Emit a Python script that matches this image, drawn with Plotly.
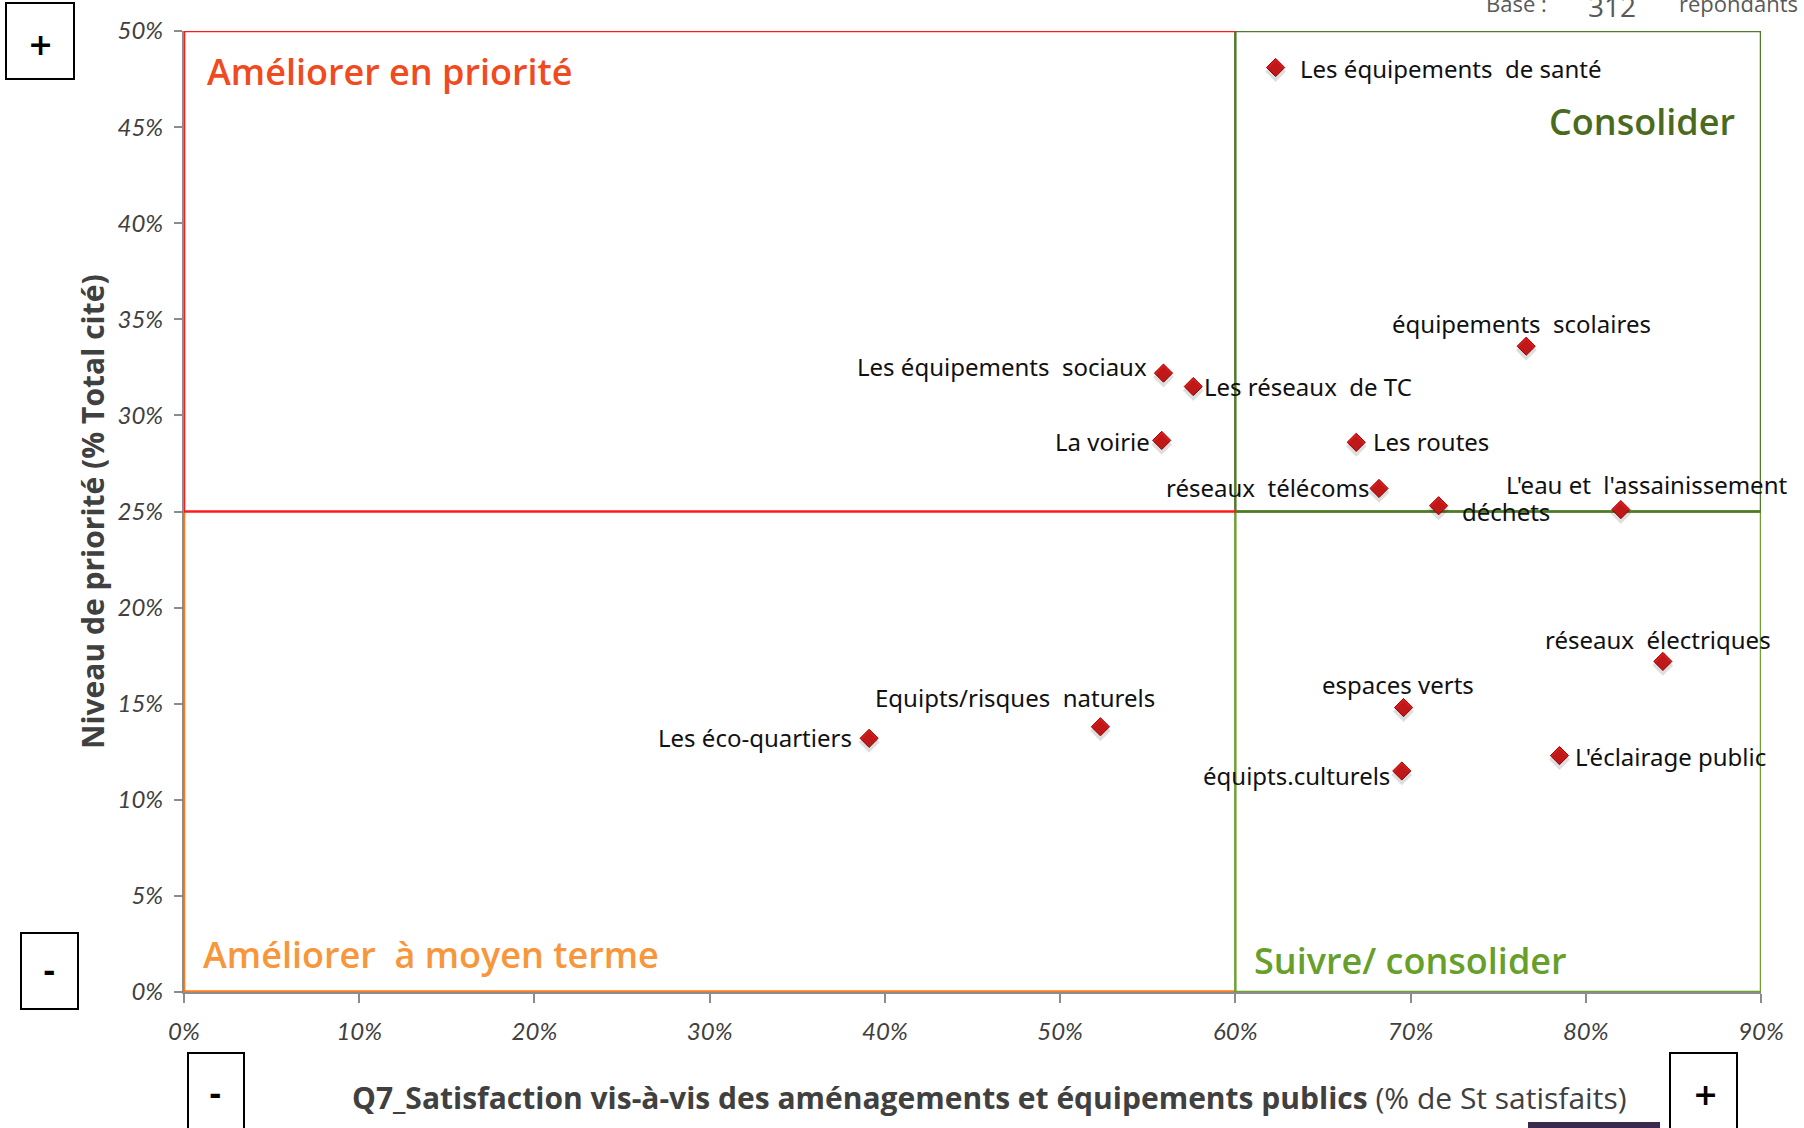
import plotly.graph_objects as go

# ---------------- data ----------------
items = [
    "Les équipements  de santé",
    "équipements  scolaires",
    "Les équipements  sociaux",
    "Les réseaux  de TC",
    "La voirie",
    "Les routes",
    "réseaux  télécoms",
    "déchets",
    "L'eau et  l'assainissement",
    "réseaux  électriques",
    "espaces verts",
    "Equipts/risques  naturels",
    "Les éco-quartiers",
    "L'éclairage public",
    "équipts.culturels",
]
satisfaction = [0.623, 0.766, 0.559, 0.576, 0.558, 0.669, 0.682, 0.716, 0.820, 0.844, 0.696, 0.523, 0.391, 0.785, 0.695]
priorite = [0.481, 0.336, 0.322, 0.315, 0.287, 0.286, 0.262, 0.253, 0.251, 0.172, 0.148, 0.138, 0.132, 0.123, 0.115]

x_ticks = [0, 0.1, 0.2, 0.3, 0.4, 0.5, 0.6, 0.7, 0.8, 0.9]
y_ticks = [0, 0.05, 0.1, 0.15, 0.2, 0.25, 0.3, 0.35, 0.4, 0.45, 0.5]
x_split = 0.60
y_split = 0.25
x_max = 0.90
y_max = 0.50

quadrant_titles = ["Améliorer en priorité", "Consolider", "Améliorer  à moyen terme", "Suivre/ consolider"]
x_title_bold = "Q7_Satisfaction vis-à-vis des aménagements et équipements publics"
x_title_rest = " (% de St satisfaits)"
y_title = "Niveau de priorité (% Total cité)"
base_label = "Base :"
base_count = "312"
base_unit = "répondants"

# ---------------- label placement (style) ----------------
# (xanchor, xshift px, yshift px)
label_place = [
    ("left", 22, -1),
    ("center", -5, 23),
    ("right", -14, 7),
    ("left", 9, 0),
    ("right", -10, -1),
    ("left", 15, 1),
    ("right", -8, 1),
    ("left", 21, -6),
    ("center", 26, 25),
    ("center", -5, 22),
    ("center", -6, 23),
    ("center", -85, 29),
    ("right", -15, 1),
    ("left", 14, -1),
    ("right", -10, -5),
]

W, H = 1804, 1128
L, R, T, B = 184, 43, 31, 136
PW, PH = W - L - R, H - T - B


def px(xp):
    return (xp - L) / PW


def py(yp):
    return (H - B - yp) / PH


fig = go.Figure()

# shadow markers (drawn on an overlay axis shifted a few pixels down)
shadow_dy = 4 * y_max / PH
fig.add_trace(go.Scatter(
    x=satisfaction, y=priorite, mode="markers",
    marker=dict(symbol="diamond", size=16, color="rgba(0,0,0,0.13)", line=dict(width=0)),
    hoverinfo="skip", showlegend=False,
    xaxis="x2", yaxis="y2",
))
fig.add_trace(go.Scatter(
    x=satisfaction, y=priorite, mode="markers",
    marker=dict(symbol="diamond", size=14, color="#dc1c1c", line=dict(width=1, color="#a80000")),
    text=items, hoverinfo="text", showlegend=False,
))

RED = "#ff1a1a"
ORANGE = "#ff7b1a"
DKGREEN = "#4f7a28"
LTGREEN = "#6ea132"

shapes = [
    dict(type="line", x0=0, x1=x_split, y0=0, y1=0, line=dict(color=ORANGE, width=3.5)),
    dict(type="line", x0=0, x1=0, y0=0, y1=y_split, line=dict(color=ORANGE, width=2.5)),
    dict(type="rect", x0=x_split, x1=x_max, y0=0, y1=y_split, line=dict(color=LTGREEN, width=2.5)),
    dict(type="rect", x0=x_split, x1=x_max, y0=y_split, y1=y_max, line=dict(color=DKGREEN, width=2.5)),
    dict(type="line", x0=0, x1=x_split, y0=y_max, y1=y_max, line=dict(color=RED, width=2.5)),
    dict(type="line", x0=0, x1=0, y0=y_split, y1=y_max, line=dict(color=RED, width=2.5)),
    dict(type="line", x0=0, x1=x_split, y0=y_split, y1=y_split, line=dict(color=RED, width=2.5)),
]
for s in shapes:
    s.update(xref="x", yref="y", layer="below")

boxes = [
    (6, 3, 74, 79),
    (21, 933, 78, 1009),
    (188, 1053, 244, 1140),
    (1670, 1053, 1737, 1140),
]
for x0, y0, x1, y1 in boxes:
    shapes.append(dict(type="rect", xref="paper", yref="paper",
                       x0=px(x0), x1=px(x1), y0=py(y1), y1=py(y0),
                       line=dict(color="black", width=2), fillcolor="white"))
shapes.append(dict(type="rect", xref="paper", yref="paper",
                   x0=px(1528), x1=px(1660), y0=py(1135), y1=py(1122),
                   line=dict(width=0), fillcolor="#3b2a4d"))

annotations = []
for name, xv, yv, (xa, xs, ys) in zip(items, satisfaction, priorite, label_place):
    annotations.append(dict(
        x=xv, y=yv, xref="x", yref="y", text=name, showarrow=False,
        xanchor=xa, yanchor="middle", xshift=xs, yshift=ys,
        font=dict(family="Noto Sans", size=24, color="#111111"),
    ))

qfont = dict(family="Open Sans", size=36, weight=600)
annotations += [
    dict(x=px(205), y=py(72), xref="paper", yref="paper", text=quadrant_titles[0],
         xanchor="left", yanchor="middle", showarrow=False, font=dict(qfont, color="#f04a1e")),
    dict(x=px(1737), y=py(121), xref="paper", yref="paper", text=quadrant_titles[1],
         xanchor="right", yanchor="middle", showarrow=False, font=dict(qfont, color="#4a6b1f")),
    dict(x=px(201), y=py(954), xref="paper", yref="paper", text=quadrant_titles[2],
         xanchor="left", yanchor="middle", showarrow=False, font=dict(qfont, color="#f7963a")),
    dict(x=px(1252), y=py(960), xref="paper", yref="paper", text=quadrant_titles[3],
         xanchor="left", yanchor="middle", showarrow=False, font=dict(qfont, color="#66a02a")),
]

signs = [("+", 40, 44), ("-", 49, 971), ("-", 215, 1094), ("+", 1705, 1094)]
for t, xp, yp in signs:
    annotations.append(dict(x=px(xp), y=py(yp), xref="paper", yref="paper", text="<b>" + t + "</b>",
                            showarrow=False, xanchor="center", yanchor="middle",
                            font=dict(family="DejaVu Sans", size=30, color="black")))

annotations.append(dict(
    x=px(989), y=py(1097), xref="paper", yref="paper",
    text="<b>" + x_title_bold + "</b>" + x_title_rest,
    showarrow=False, xanchor="center", yanchor="middle",
    font=dict(family="Open Sans", size=30, color="#404040"),
))
annotations.append(dict(
    x=px(92), y=py(512), xref="paper", yref="paper",
    text="<b>" + y_title + "</b>", textangle=-90,
    showarrow=False, xanchor="center", yanchor="middle",
    font=dict(family="Open Sans", size=30, color="#404040"),
))
# "Base : 312 répondants" (cut by the top edge as in the reference)
for txt, xp, yp, sz in [(base_label, 1484, 3, 22), (base_count, 1586, 6, 28), (base_unit, 1677, 3, 22)]:
    annotations.append(dict(
        x=px(xp), y=py(yp), xref="paper", yref="paper", text=txt,
        showarrow=False, xanchor="left", yanchor="middle",
        font=dict(family="Open Sans", size=sz, color="#595959"),
    ))

tickfont = dict(family="Lato", size=24, color="#404040", style="italic")
fig.update_layout(
    width=W, height=H,
    margin=dict(l=L, r=R, t=T, b=B, pad=0),
    paper_bgcolor="white", plot_bgcolor="white",
    showlegend=False,
    shapes=shapes,
    annotations=annotations,
    xaxis=dict(range=[0, x_max], tickvals=x_ticks, tickformat=".0%",
               showgrid=False, zeroline=False, showline=True, linecolor="#8c8c8c", linewidth=2,
               ticks="outside", ticklen=9, tickcolor="#8c8c8c", tickwidth=2,
               tickfont=tickfont, ticklabelstandoff=8),
    yaxis=dict(range=[0, y_max], tickvals=y_ticks, tickformat=".0%",
               showgrid=False, zeroline=False, showline=True, linecolor="#8c8c8c", linewidth=2,
               ticks="outside", ticklen=8, tickcolor="#8c8c8c", tickwidth=2,
               tickfont=tickfont, ticklabelstandoff=6),
    xaxis2=dict(range=[0, x_max], overlaying="x", visible=False),
    yaxis2=dict(range=[shadow_dy, y_max + shadow_dy], overlaying="y", visible=False),
)
fig.write_html("out.html", config={"displayModeBar": False},
               post_script="document.body.style.margin='0';")
